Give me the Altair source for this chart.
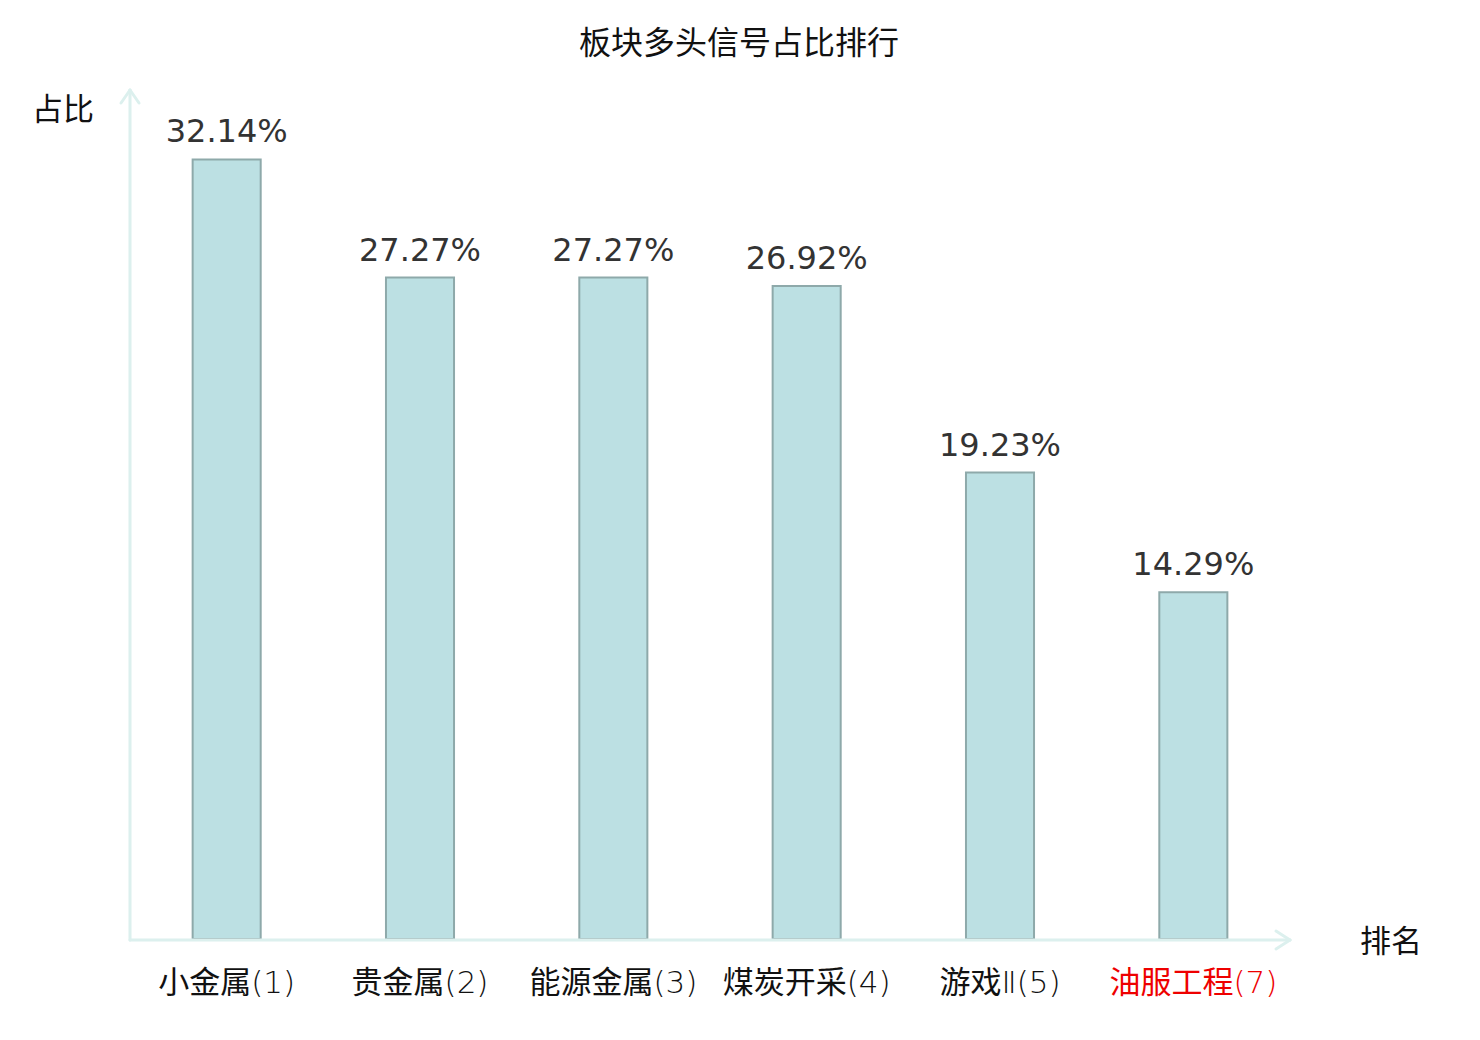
import altair as alt
import pandas as pd

categories = ["小金属(1)", "贵金属(2)", "能源金属(3)", "煤炭开采(4)", "游戏Ⅱ(5)", "油服工程(7)"]
values = [32.14, 27.27, 27.27, 26.92, 19.23, 14.29]
value_labels = ["32.14%", "27.27%", "27.27%", "26.92%", "19.23%", "14.29%"]
highlight = "油服工程(7)"
title_text = ["板块多头信号占比排行"]
y_title = ["占比"]
x_title = ["排名"]

W, H = 1160, 849
AXIS_COLOR = "#dcf0ee"
CJK = "Noto Sans CJK SC"
LABEL_FONT = "'DejaVu Sans Light', 'Noto Sans CJK SC', sans-serif"

df = pd.DataFrame({"cat": categories, "val": values, "lab": value_labels})
one = pd.DataFrame({"k": [0]})

xscale = alt.Scale(domain=categories, paddingInner=0.648, paddingOuter=0.324)
yscale = alt.Scale(domain=[0, 35])

base = alt.Chart(df)

bars = base.mark_bar(fill="#bce0e3", stroke="#8ea9aa", strokeWidth=2).encode(
    x=alt.X("cat:N", scale=xscale, sort=categories, title=None,
            axis=alt.Axis(domain=False, ticks=False, labelAngle=0, labelPadding=29,
                          labelFontSize=31, labelFont=LABEL_FONT,
                          labelColor=alt.condition(f"datum.value == '{highlight}'",
                                                   alt.value("#ee0000"), alt.value("#111111")))),
    y=alt.Y("val:Q", scale=yscale, axis=None),
)

texts = base.mark_text(dy=-17, baseline="alphabetic", fontSize=32, font="DejaVu Sans",
                       color="#333333").encode(
    x=alt.X("cat:N", scale=xscale, sort=categories),
    y=alt.Y("val:Q", scale=yscale),
    text="lab:N",
)

dec = alt.Chart(one)
rule_kw = dict(color=AXIS_COLOR, strokeWidth=3, strokeCap="round")
y_line = dec.mark_rule(**rule_kw).encode(x=alt.value(0), y=alt.value(0), y2=alt.value(H + 1))
y_arr1 = dec.mark_rule(**rule_kw).encode(x=alt.value(0), x2=alt.value(-9), y=alt.value(0), y2=alt.value(13))
y_arr2 = dec.mark_rule(**rule_kw).encode(x=alt.value(0), x2=alt.value(9), y=alt.value(0), y2=alt.value(13))
x_line = dec.mark_rule(**rule_kw).encode(x=alt.value(0), x2=alt.value(W), y=alt.value(H + 1))
x_arr1 = dec.mark_rule(**rule_kw).encode(x=alt.value(W), x2=alt.value(W - 14), y=alt.value(H + 1), y2=alt.value(H - 8))
x_arr2 = dec.mark_rule(**rule_kw).encode(x=alt.value(W), x2=alt.value(W - 14), y=alt.value(H + 1), y2=alt.value(H + 10))

title = alt.Chart(pd.DataFrame({"t": title_text})).mark_text(
    fontSize=32, font=CJK, color="#111111", baseline="middle", align="center").encode(
    text="t:N", x=alt.value(609), y=alt.value(-46))
ylab = alt.Chart(pd.DataFrame({"t": y_title})).mark_text(
    fontSize=31, font=CJK, color="#111111", baseline="middle", align="center").encode(
    text="t:N", x=alt.value(-67), y=alt.value(21))
xlab = alt.Chart(pd.DataFrame({"t": x_title})).mark_text(
    fontSize=31, font=CJK, color="#111111", baseline="middle", align="center").encode(
    text="t:N", x=alt.value(1261), y=alt.value(853))

chart = alt.layer(
    bars, texts, y_line, y_arr1, y_arr2, x_line, x_arr1, x_arr2, title, ylab, xlab
).properties(
    width=W, height=H,
    autosize=alt.AutoSizeParams(type="none"),
    padding={"left": 122, "top": 82, "right": 170, "bottom": 90},
    background="white",
).configure_view(stroke=None)

chart.save("out.html", embed_options={"renderer": "svg", "actions": False})
